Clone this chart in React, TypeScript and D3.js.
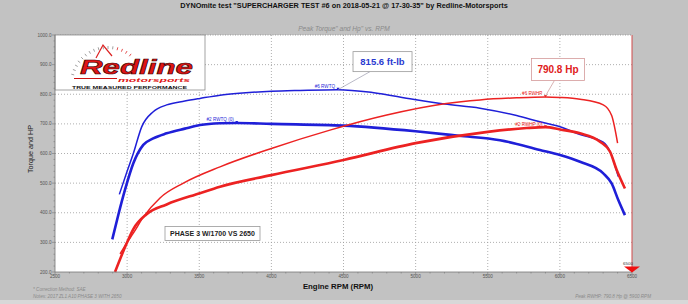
import React from "react";
import * as d3 from "d3";

const W = 688;
const H = 304;

// #6 RWTQ (thin blue)
const tq6Rpm = [2946, 3000, 3043, 3101, 3181, 3274, 3400, 3505, 3644, 3800, 4000, 4200, 4462, 4700, 4982, 5200, 5446, 5700, 5862, 6001, 6140, 6300, 6348, 6405];
const tq6Val = [462, 540, 600, 690, 741, 764, 777, 786, 797, 804, 810, 813, 815.6, 806, 783, 767, 753, 728, 707, 690, 664, 638, 606, 522];
// #2 RWTQ (0) (thick blue)
const tq2Rpm = [2897, 2940, 2985, 3043, 3112, 3181, 3274, 3400, 3505, 3644, 3760, 4000, 4500, 5000, 5300, 5585, 5862, 6001, 6140, 6301, 6359, 6405, 6451];
const tq2Val = [310, 395, 477, 567, 629, 651, 668, 684, 696, 702, 703, 700, 694, 675, 660, 645, 612, 595, 572, 533, 499, 443, 392];
// #6 RWHP (thin red)
const hp6Rpm = [2951, 3000, 3043, 3112, 3228, 3390, 3644, 4000, 4406, 4800, 5200, 5446, 5700, 5900, 6001, 6140, 6301, 6359, 6400];
const hp6Val = [261, 300, 331, 385, 450, 500, 555, 617, 679, 730, 768, 781, 788, 790.8, 789, 783, 764, 728, 635];
// #2 RWHP (0) (thick red)
const hp2Rpm = [2916, 2997, 3043, 3135, 3274, 3505, 3644, 4000, 4500, 5000, 5500, 5770, 5900, 6001, 6140, 6278, 6348, 6394, 6451];
const hp2Val = [200, 297, 345, 395, 428, 466, 488, 527, 578, 635, 673, 686, 689, 681, 668, 640, 606, 544, 482];

const xTicks = [2500, 3000, 3500, 4000, 4500, 5000, 5500, 6000, 6500];
const yTicks = [200, 300, 400, 500, 600, 700, 800, 900, 1000];

const seriesNames = ["#6 RWTQ", "#2 RWTQ (0)", "#6 RWHP", "#2 RWHP (0)"];

const BLUE = "#1f1fd8";
const RED = "#ec2222";
const FONT = "'Liberation Sans', Arial, sans-serif";

export default function App() {
  const x = d3.scaleLinear().domain([2500, 6500]).range([55, 632]);
  const y = d3.scaleLinear().domain([200, 1000]).range([272, 35]);

  const series = [
    { name: seriesNames[0], rpm: tq6Rpm, val: tq6Val, color: BLUE, w: 1.5 },
    { name: seriesNames[1], rpm: tq2Rpm, val: tq2Val, color: BLUE, w: 2.6 },
    { name: seriesNames[2], rpm: hp6Rpm, val: hp6Val, color: RED, w: 1.5 },
    { name: seriesNames[3], rpm: hp2Rpm, val: hp2Val, color: RED, w: 2.6 },
  ];

  const line = d3
    .line<[number, number]>()
    .x((d) => x(d[0]))
    .y((d) => y(d[1]))
    .curve(d3.curveMonotoneX);

  const minorX = d3.range(2500, 6501, 100);
  const minorY = d3.range(200, 1001, 20);

  const peakOf = (s: any) => {
    const i = d3.maxIndex(s.val);
    return [s.rpm[i], s.val[i]] as [number, number];
  };

  const pTq = peakOf(series[0]);
  const pHp = peakOf(series[2]);

  const dialTicks = d3.range(0, 16).map((i) => (-165 + i * 7.5) * (Math.PI / 180));

  return (
    <svg
      width={W}
      height={H}
      style={{ position: "absolute", left: 0, top: 0, fontFamily: FONT }}
    >
      <rect x={0} y={0} width={W} height={H} fill="#c2c2c2" />
      <rect x={0} y={300} width={W} height={4} fill="#d8d8d8" />

      {/* Title */}
      <text x={344} y={8} textAnchor="middle" fontSize={7.3} fontWeight="bold" fill="#111">
        DYNOmite test "SUPERCHARGER TEST #6 on 2018-05-21 @ 17-30-35" by Redline-Motorsports
      </text>
      <text x={344} y={31} textAnchor="middle" fontSize={6.6} fontStyle="italic" fill="#8a8a8a">
        Peak Torque" and Hp" vs. RPM
      </text>

      {/* plot area */}
      <rect x={x(2500)} y={y(1000)} width={x(6500) - x(2500)} height={y(200) - y(1000)} fill="#ffffff" />

      {/* grid */}
      {yTicks.slice(1, -1).map((t) => (
        <line key={"gy" + t} x1={x(2500)} x2={x(6500)} y1={y(t)} y2={y(t)} stroke="#9a9a9a" strokeWidth={0.8} strokeDasharray="1 2" />
      ))}
      {xTicks.slice(1, -1).map((t) => (
        <line key={"gx" + t} x1={x(t)} x2={x(t)} y1={y(1000)} y2={y(200)} stroke="#9a9a9a" strokeWidth={0.8} strokeDasharray="1 2" />
      ))}
      <line x1={x(2500)} x2={x(6500)} y1={y(1000)} y2={y(1000)} stroke="#888" strokeWidth={0.8} strokeDasharray="1 1.5" />

      {/* Logo box */}
      <rect x={x(2500)} y={y(1000)} width={150} height={55} fill="#fff" stroke="#8c8c8c" strokeWidth={0.8} />
      <g>
        {dialTicks.map((a, i) => (
          <line
            key={"dt" + i}
            x1={108 + 38 * Math.cos(a)}
            y1={84 + 38 * Math.sin(a)}
            x2={108 + 35 * Math.cos(a)}
            y2={84 + 35 * Math.sin(a)}
            stroke={i > 11 ? "#d22" : "#888"}
            strokeWidth={0.8}
          />
        ))}
        <path d="M96,58 L103,45 L112,56" fill="none" stroke="#d22" strokeWidth={1.2} />
        <text x={80} y={74} fontSize={20} fontWeight="bold" fontStyle="italic" fill="#e01515" stroke="#300" strokeWidth={0.6} textLength={113} lengthAdjust="spacingAndGlyphs">
          Redline
        </text>
        <line x1={74} x2={117} y1={78.5} y2={78.5} stroke="#c11" strokeWidth={1.2} />
        <text x={118} y={81.5} fontSize={5.8} fontWeight="bold" fontStyle="italic" fill="#e01515" textLength={72} lengthAdjust="spacingAndGlyphs">
          motorsports
        </text>
        <text x={72} y={88.5} fontSize={4.4} fontWeight="bold" fill="#111" textLength={115} lengthAdjust="spacingAndGlyphs">
          TRUE MEASURED PERFORMANCE
        </text>
      </g>

      {/* curves */}
      {series.map((s) => (
        <path
          key={s.name}
          d={line(s.rpm.map((r, i) => [r, s.val[i]] as [number, number])) || ""}
          fill="none"
          stroke={s.color}
          strokeWidth={s.w}
          strokeLinejoin="round"
        />
      ))}

      {/* series labels at peaks */}
      {series.map((s) => {
        const p = peakOf(s);
        return (
          <g key={"lbl" + s.name}>
            <text x={x(p[0]) - 3} y={y(p[1]) - 1.5} textAnchor="end" fontSize={4.6} fill={s.color}>
              {s.name}
            </text>
            <path d={`M${x(p[0]) - 1.5},${y(p[1]) - 2} l3,0 l-1.5,2.5 z`} fill={s.color} />
          </g>
        );
      })}

      {/* Peak torque callout */}
      <line x1={x(pTq[0])} y1={y(pTq[1])} x2={x(pTq[0]) + 32} y2={y(pTq[1]) - 18} stroke="#8a8aa0" strokeWidth={0.6} />
      <rect x={x(pTq[0]) + 15} y={y(pTq[1]) - 38} width={59} height={20} fill="#fff" stroke="#9a9a9a" strokeWidth={0.8} />
      <text x={x(pTq[0]) + 44.5} y={y(pTq[1]) - 24.5} textAnchor="middle" fontSize={9.5} fontWeight="bold" fill="#2a3ad0">
        {`${pTq[1].toFixed(1)} ft-lb`}
      </text>

      {/* Peak HP callout */}
      <line x1={x(pHp[0])} y1={y(pHp[1]) - 1} x2={x(pHp[0]) + 9} y2={y(pHp[1]) - 16.5} stroke="#c08080" strokeWidth={0.6} />
      <rect x={x(pHp[0]) - 14} y={y(pHp[1]) - 38.5} width={53} height={22} fill="#fff" stroke="#d49a9a" strokeWidth={0.8} />
      <text x={x(pHp[0]) + 12.5} y={y(pHp[1]) - 24} textAnchor="middle" fontSize={10} fontWeight="bold" fill="#e02020">
        {`${pHp[1].toFixed(1)} Hp`}
      </text>

      {/* Note box */}
      <rect x={165} y={226.5} width={95} height={14} fill="#fff" stroke="#999" strokeWidth={0.8} />
      <text x={212.5} y={236} textAnchor="middle" fontSize={7} fontWeight="bold" fill="#222">
        PHASE 3 W/1700 VS 2650
      </text>

      {/* axes */}
      <line x1={x(2500)} x2={x(2500)} y1={y(1000)} y2={y(200)} stroke="#777" strokeWidth={0.8} />
      <line x1={x(2500)} x2={x(6500)} y1={y(200)} y2={y(200)} stroke="#777" strokeWidth={0.8} />
      <line x1={x(6500)} x2={x(6500)} y1={y(1000)} y2={y(200)} stroke="#d04a4a" strokeWidth={1} />
      {minorY.map((t) => (
        <line key={"my" + t} x1={x(2500) - (t % 100 === 0 ? 3 : 1.5)} x2={x(2500)} y1={y(t)} y2={y(t)} stroke="#777" strokeWidth={0.6} />
      ))}
      {minorX.map((t) => (
        <line key={"mx" + t} x1={x(t)} x2={x(t)} y1={y(200)} y2={y(200) + (t % 500 === 0 ? 3 : 1.5)} stroke="#777" strokeWidth={0.6} />
      ))}
      {yTicks.map((t) => (
        <text key={"yl" + t} x={x(2500) - 3.5} y={y(t) + 1.6} textAnchor="end" fontSize={4.6} fill="#555">
          {t.toFixed(1)}
        </text>
      ))}
      {xTicks.map((t) => (
        <text key={"xl" + t} x={x(t)} y={277.5} textAnchor="middle" fontSize={4.6} fill="#555">
          {t}
        </text>
      ))}

      {/* 6500 marker */}
      <text x={x(6500) - 4} y={265} textAnchor="middle" fontSize={4.4} fill="#333">6500</text>
      <path d={`M${x(6500) - 8},${266.5} L${x(6500) + 8},${266.5} L${x(6500)},${272.5} Z`} fill="#f01010" />

      {/* axis titles */}
      <text transform="translate(33,149) rotate(-90)" textAnchor="middle" fontSize={7.2} fill="#222">
        Torque and HP
      </text>
      <text x={338} y={289} textAnchor="middle" fontSize={7.8} fontWeight="bold" fill="#111">
        Engine RPM (RPM)
      </text>

      {/* footnotes */}
      <text x={33} y={290.5} fontSize={4.6} fill="#8a8a8a" fontStyle="italic">* Correction Method: SAE</text>
      <text x={33} y={297.5} fontSize={4.6} fill="#8a8a8a" fontStyle="italic">Notes: 2017 ZL1 A10 PHASE 3 WITH 2650</text>
      <text x={651} y={297.5} textAnchor="end" fontSize={4.6} fill="#8a8a8a" fontStyle="italic">
        Peak RWHP: 790.8 Hp @ 5900 RPM
      </text>
    </svg>
  );
}
